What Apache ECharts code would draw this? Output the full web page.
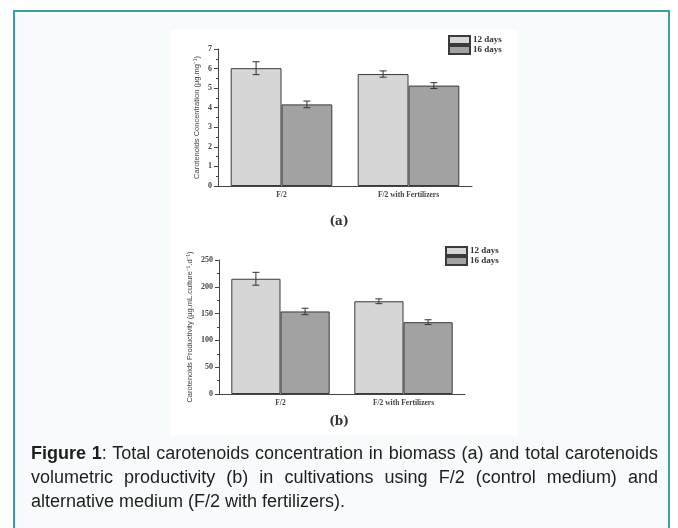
<!DOCTYPE html>
<html>
<head>
<meta charset="utf-8">
<script src="https://cdn.jsdelivr.net/npm/echarts@6/dist/echarts.min.js"></script>
<style>
  html, body { margin: 0; padding: 0; background: #ffffff; width: 678px; height: 528px; overflow: hidden; }
  #box { position: absolute; left: 13px; top: 10px; width: 657px; height: 540px; border: 2px solid #3b9f9f; background: #f7fbfb; box-sizing: border-box; }
  #chart { position: absolute; left: 0; top: 0; width: 678px; height: 528px; }
  #caption { position: absolute; left: 31px; top: 441px; width: 627px; font-family: "Liberation Sans", Arial, sans-serif; font-size: 18px; line-height: 24px; color: #1e1e1e; }
  #caption .j { text-align: justify; text-align-last: justify; white-space: nowrap; }
</style>
</head>
<body>
<div id="box"></div>
<div id="chart"></div>
<div id="caption">
  <div class="j"><b>Figure 1</b>: Total carotenoids concentration in biomass (a) and total carotenoids</div>
  <div class="j">volumetric productivity (b) in cultivations using F/2 (control medium) and</div>
  <div>alternative medium (F/2 with fertilizers).</div>
</div>
<script>
// ---- data ----
const categories = ['F/2', 'F/2 with Fertilizers'];
const seriesNames = ['12 days', '16 days'];
// (a) Carotenoids concentration (µg.mg-1)
const concDay12 = [6.02, 5.72];
const concDay16 = [4.17, 5.13];
const concErr12 = [0.33, 0.16];
const concErr16 = [0.17, 0.15];
// (b) Carotenoids productivity (µg.mL.culture-1.d-1)
const prodDay12 = [215, 173];
const prodDay16 = [154, 134];
const prodErr12 = [12, 4.5];
const prodErr16 = [6, 4.5];
const concTicks = { min: 0, max: 7, interval: 1 };
const prodTicks = { min: 0, max: 250, interval: 50 };

// ---- styles ----
const fill12 = '#d6d6d6';
const fill16 = '#a2a2a2';
const edge = '#3a3a3a';
const axisCol = '#444';
const serifBold = { fontFamily: 'Liberation Serif', fontWeight: 'bold', color: '#444' };

const chart = echarts.init(document.getElementById('chart'), null, { renderer: 'canvas' });

function errData(vals, errs) {
  return vals.map((v, i) => [i, v - errs[i], v + errs[i]]);
}

function errSeries(name, xi, yi, vals, errs, side) {
  return {
    type: 'custom', name: name + ' err', xAxisIndex: xi, yAxisIndex: yi, z: 5,
    data: errData(vals, errs),
    renderItem: function (params, api) {
      const cat = api.value(0);
      const lo = api.coord([cat, api.value(1)]);
      const hi = api.coord([cat, api.value(2)]);
      const cw = api.size([1, 0])[0];
      const x = lo[0] + side * cw * 0.2;
      const cap = 3.5;
      const st = { stroke: '#333', lineWidth: 1 };
      return { type: 'group', children: [
        { type: 'line', shape: { x1: x, y1: lo[1], x2: x, y2: hi[1] }, style: st },
        { type: 'line', shape: { x1: x - cap, y1: lo[1], x2: x + cap, y2: lo[1] }, style: st },
        { type: 'line', shape: { x1: x - cap, y1: hi[1], x2: x + cap, y2: hi[1] }, style: st }
      ]};
    }
  };
}

function xAxis(gi) {
  return {
    type: 'category', gridIndex: gi, data: categories,
    axisLine: { lineStyle: { color: axisCol, width: 1 } },
    axisTick: { alignWithLabel: true, length: 3, lineStyle: { color: axisCol } },
    axisLabel: Object.assign({ fontSize: 7.5, margin: 5 }, serifBold),
    splitLine: { show: false }
  };
}

function yAxis(gi, ticks, name, gap) {
  return Object.assign({
    type: 'value', gridIndex: gi, name: name, nameLocation: 'middle', nameGap: gap,
    nameTextStyle: { fontFamily: 'Liberation Sans Narrow, Liberation Sans', fontSize: 7.5, color: '#444' },
    axisLine: { show: true, lineStyle: { color: axisCol, width: 1 } },
    axisTick: { show: true, inside: false, length: 4, lineStyle: { color: axisCol } },
    minorTick: { show: true, splitNumber: 2, length: 2, lineStyle: { color: axisCol } },
    axisLabel: Object.assign({ fontSize: 8, margin: 6 }, serifBold),
    splitLine: { show: false }
  }, ticks);
}

function bar(name, xi, yi, vals, color) {
  return {
    type: 'bar', name: name, xAxisIndex: xi, yAxisIndex: yi, data: vals,
    barGap: '0%', barCategoryGap: '20%',
    itemStyle: { color: color, borderColor: edge, borderWidth: 1 },
    emphasis: { disabled: true }
  };
}

const legendCommon = {
  orient: 'vertical', itemWidth: 21, itemHeight: 8, itemGap: 0, icon: 'rect',
  textStyle: Object.assign({ fontSize: 9, padding: [0, 0, 0, -2] }, serifBold, { color: '#333' }),
  data: seriesNames, padding: 0, selectedMode: false
};

chart.setOption({
  animation: false,
  backgroundColor: 'transparent',
  graphic: [
    { type: 'rect', left: 170, top: 30, shape: { width: 348, height: 405 }, style: { fill: '#ffffff' }, z: -10 },
    { type: 'text', left: 'center', top: 216, style: { text: '(a)', font: 'bold 12px "DejaVu Serif"', fill: '#333' } },
    { type: 'text', left: 'center', top: 416, style: { text: '(b)', font: 'bold 12px "DejaVu Serif"', fill: '#333' } }
  ],
  legend: [
    Object.assign({ left: 448, top: 35 }, legendCommon),
    Object.assign({ left: 445, top: 246 }, legendCommon)
  ],
  grid: [
    { left: 218, right: 206, top: 49, bottom: 342 },
    { left: 219, right: 213, top: 260, bottom: 134 }
  ],
  xAxis: [xAxis(0), xAxis(1)],
  yAxis: [
    yAxis(0, concTicks, 'Carotenoids Concentration (µg.mg⁻¹)', 17),
    yAxis(1, prodTicks, 'Carotenoids Productivity (µg.mL.culture⁻¹.d⁻¹)', 25)
  ],
  series: [
    bar(seriesNames[0], 0, 0, concDay12, fill12),
    bar(seriesNames[1], 0, 0, concDay16, fill16),
    errSeries(seriesNames[0] + ' a', 0, 0, concDay12, concErr12, -1),
    errSeries(seriesNames[1] + ' a', 0, 0, concDay16, concErr16, 1),
    bar(seriesNames[0], 1, 1, prodDay12, fill12),
    bar(seriesNames[1], 1, 1, prodDay16, fill16),
    errSeries(seriesNames[0] + ' b', 1, 1, prodDay12, prodErr12, -1),
    errSeries(seriesNames[1] + ' b', 1, 1, prodDay16, prodErr16, 1)
  ]
});
</script>
</body>
</html>
